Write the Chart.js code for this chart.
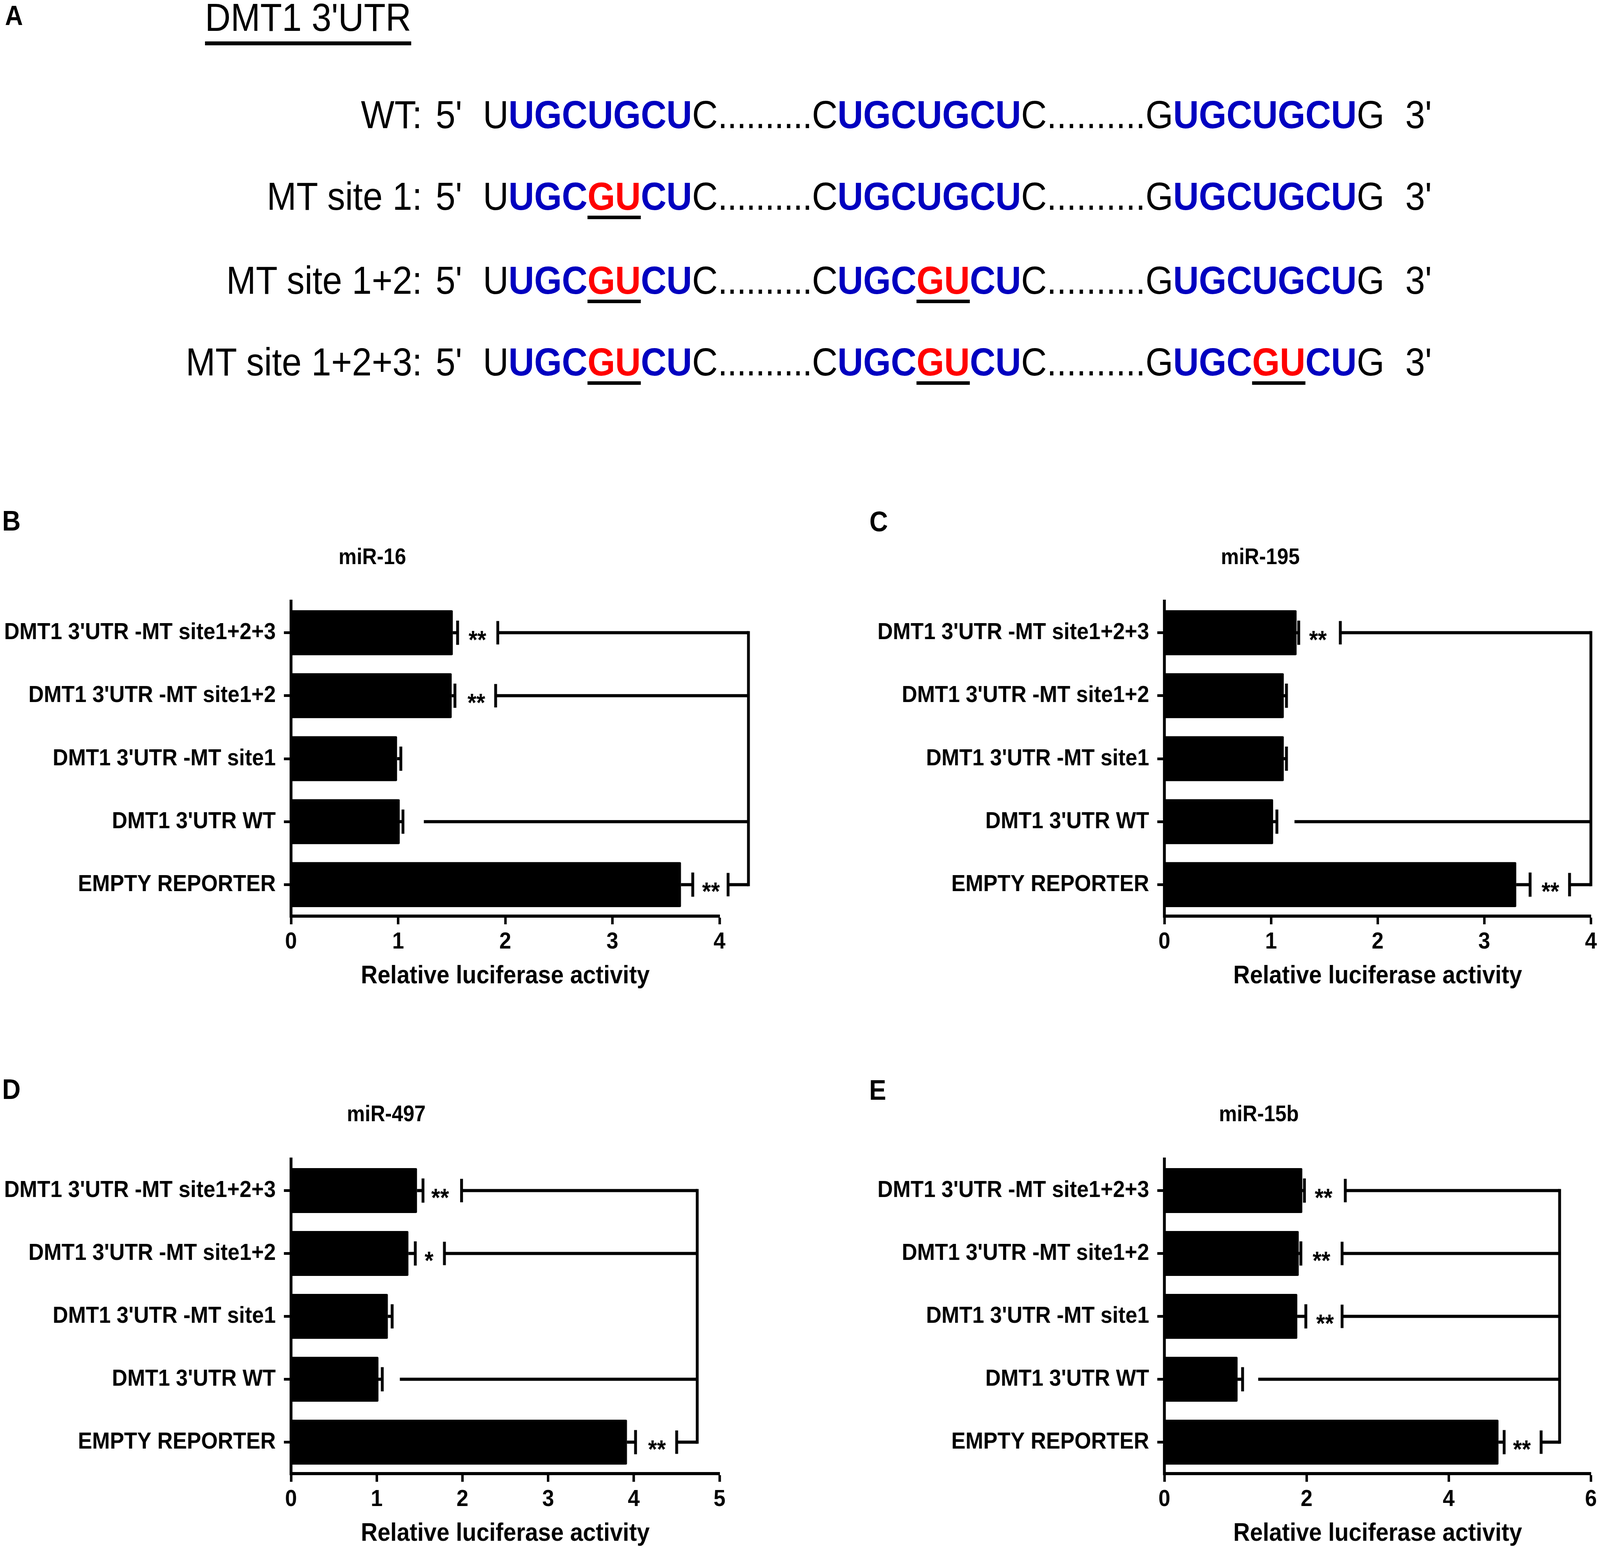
<!DOCTYPE html>
<html lang="en">
<head>
<meta charset="UTF-8">
<title>DMT1 3'UTR luciferase reporter</title>
<script src="https://cdn.jsdelivr.net/npm/chart.js@4.4.1/dist/chart.umd.min.js"></script>
<style>
  html, body { margin: 0; background: #fff; overflow: hidden; }
  #frame { position: relative; overflow: hidden; width: 4503px; height: 3965px; }
  .page { position: absolute; left: 0; top: 0; width: 4503px; height: 3965px; overflow: hidden; background: #fff;
          font-family: 'Liberation Sans', Arial, sans-serif; color: #000; transform-origin: 0 0; }
  .t { position: absolute; white-space: pre; }
  .row { position: absolute; left: 0; width: 4503px; height: 100px; font-size: 100px; line-height: 100px; white-space: nowrap; }
  .row > span { position: absolute; top: 0; white-space: pre; }
  .lab { left: 0; width: 1188px; text-align: right; }
  .p5 { left: 1226px; }
  .seq { left: 1359px; }
  .p3 { left: 3955px; }
  .b { font-weight: bold; color: #0000c0; }
  .r { font-weight: bold; color: #ff0000; text-decoration: underline; text-decoration-color: #000;
       text-decoration-thickness: 9px; text-underline-offset: 15px; text-decoration-skip-ink: none; }
  .dots { letter-spacing: -1.3px; }
  .dots2 { letter-spacing: 0; }
  .letter { font-weight: bold; font-size: 72px; line-height: 72px; }
  .ttl { position: absolute; width: 1000px; text-align: center; font-weight: bold; font-size: 57px; line-height: 57px; }
  canvas { position: absolute; }
</style>
</head>
<body>
<div id="frame">
<div class="page" id="page">
  <div class="t" style="left:14px; top:5px; font-weight:bold; font-size:70px; line-height:70px;">A</div>
  <div class="t" style="left:577px; top:-6px; font-size:100px; line-height:100px; text-decoration:underline; text-decoration-thickness:10px; text-underline-offset:27px; text-decoration-skip-ink:none;">DMT1 3'UTR</div>

  <div class="row" style="top:243px"><span class="lab">WT:</span><span class="p5">5'</span><span class="seq">U<span class="b">UGCUGCU</span>C<span class="dots">..........</span>C<span class="b">UGCUGCU</span>C<span class="dots2">..........</span>G<span class="b">UGCUGCU</span>G</span><span class="p3">3'</span></div>
  <div class="row" style="top:452px"><span class="lab">MT site 1:</span><span class="p5">5'</span><span class="seq">U<span class="b">UGC</span><span class="r">GU</span><span class="b">CU</span>C<span class="dots">..........</span>C<span class="b">UGCUGCU</span>C<span class="dots2">..........</span>G<span class="b">UGCUGCU</span>G</span><span class="p3">3'</span></div>
  <div class="row" style="top:667px"><span class="lab">MT site 1+2:</span><span class="p5">5'</span><span class="seq">U<span class="b">UGC</span><span class="r">GU</span><span class="b">CU</span>C<span class="dots">..........</span>C<span class="b">UGC</span><span class="r">GU</span><span class="b">CU</span>C<span class="dots2">..........</span>G<span class="b">UGCUGCU</span>G</span><span class="p3">3'</span></div>
  <div class="row" style="top:876px"><span class="lab">MT site 1+2+3:</span><span class="p5">5'</span><span class="seq">U<span class="b">UGC</span><span class="r">GU</span><span class="b">CU</span>C<span class="dots">..........</span>C<span class="b">UGC</span><span class="r">GU</span><span class="b">CU</span>C<span class="dots2">..........</span>G<span class="b">UGC</span><span class="r">GU</span><span class="b">CU</span>G</span><span class="p3">3'</span></div>

  <div class="t letter" style="left:6px; top:1297px;">B</div>
  <div class="t letter" style="left:2447px; top:1299px;">C</div>
  <div class="t letter" style="left:6px; top:2752px;">D</div>
  <div class="t letter" style="left:2446px; top:2754px;">E</div>

  <div class="ttl" style="left:548px; top:1396px;">miR-16</div>
  <div class="ttl" style="left:3047px; top:1396px;">miR-195</div>
  <div class="ttl" style="left:587px; top:2822px;">miR-497</div>
  <div class="ttl" style="left:3043px; top:2822px;">miR-15b</div>

  <canvas id="chartB" width="2250" height="1078" style="left:0px; top:1460px;"></canvas>
  <canvas id="chartC" width="2253" height="1078" style="left:2250px; top:1460px;"></canvas>
  <canvas id="chartD" width="2250" height="1075" style="left:0px; top:2890px;"></canvas>
  <canvas id="chartE" width="2253" height="1075" style="left:2250px; top:2890px;"></canvas>
</div>
</div>

<script>
    // rows, top to bottom
    const categories = ["DMT1 3'UTR -MT site1+2+3", "DMT1 3'UTR -MT site1+2", "DMT1 3'UTR -MT site1", "DMT1 3'UTR WT", "EMPTY REPORTER"];

    // B - miR-16
    const mir16 = [1.51, 1.50, 0.99, 1.015, 3.64];
    const mir16Err = [0.045, 0.03, 0.035, 0.03, 0.11];
    const mir16Ticks = [0, 1, 2, 3, 4];
    const mir16Stars = ['**', '**', '', '', '**'];
    const mir16StarAt = [1.74, 1.73, null, null, 3.92];
    const mir16LineFrom = [1.93, 1.91, null, 1.24, 4.08];
    const mir16Join = 4.27;

    // C - miR-195
    const mir195 = [1.24, 1.12, 1.12, 1.02, 3.30];
    const mir195Err = [0.02, 0.025, 0.025, 0.035, 0.13];
    const mir195Ticks = [0, 1, 2, 3, 4];
    const mir195Stars = ['**', '', '', '', '**'];
    const mir195StarAt = [1.44, null, null, null, 3.62];
    const mir195LineFrom = [1.65, null, null, 1.22, 3.80];
    const mir195Join = 4.0;

    // D - miR-497
    const mir497 = [1.47, 1.37, 1.13, 1.02, 3.92];
    const mir497Err = [0.07, 0.08, 0.05, 0.045, 0.10];
    const mir497Ticks = [0, 1, 2, 3, 4, 5];
    const mir497Stars = ['**', '*', '', '', '**'];
    const mir497StarAt = [1.74, 1.61, null, null, 4.27];
    const mir497LineFrom = [1.99, 1.79, null, 1.27, 4.50];
    const mir497Join = 4.74;

    // E - miR-15b
    const mir15b = [1.94, 1.89, 1.87, 1.03, 4.70];
    const mir15bErr = [0.03, 0.03, 0.12, 0.07, 0.08];
    const mir15bTicks = [0, 2, 4, 6];
    const mir15bStars = ['**', '**', '**', '', '**'];
    const mir15bStarAt = [2.24, 2.21, 2.26, null, 5.03];
    const mir15bLineFrom = [2.545, 2.50, 2.50, 1.32, 5.30];
    const mir15bJoin = 5.56;

    // the figure is laid out at 4503x3965; the window can come out narrower
    // (4096 px), so stretch the layout to fill whatever viewport we get
    const sx = Math.min(1, window.innerWidth / 4503);
    const sy = Math.min(1, window.innerHeight / 3965);
    if (sx < 1 || sy < 1) {
        document.getElementById('page').style.transform = 'scale(' + sx + ',' + sy + ')';
        const frame = document.getElementById('frame');
        frame.style.width = (4503 * sx) + 'px';
        frame.style.height = (3965 * sy) + 'px';
    }

    Chart.defaults.font.family = "'Liberation Sans', Arial, sans-serif";
    Chart.defaults.color = '#000';

    // box = [y axis width, top padding, right padding]
    function drawPanel(id, values, errs, ticks, stars, starAt, lineFrom, joinAt, box) {
        // error bars + significance brackets, placed through the chart scales
        const sig = {
            id: 'sig',
            afterDraw(chart) {
                const ctx = chart.ctx;
                const x = chart.scales.x, y = chart.scales.y;
                const seg = (x0, y0, x1, y1) => { ctx.beginPath(); ctx.moveTo(x0, y0); ctx.lineTo(x1, y1); ctx.stroke(); };
                ctx.save();
                ctx.strokeStyle = '#000';
                ctx.fillStyle = '#000';
                ctx.lineWidth = 8;
                values.forEach((v, i) => {
                    const yc = y.getPixelForValue(i);
                    const x0 = x.getPixelForValue(v), x1 = x.getPixelForValue(v + errs[i]);
                    seg(x0, yc, x1, yc);
                    seg(x1, yc - 31, x1, yc + 31);
                });
                const xj = x.getPixelForValue(joinAt);
                const rows = [];
                lineFrom.forEach((f, i) => {
                    if (f === null) return;
                    const yc = y.getPixelForValue(i);
                    rows.push(yc);
                    const xs = x.getPixelForValue(f);
                    seg(xs, yc, xj, yc);
                    if (stars[i]) seg(xs, yc - 30, xs, yc + 30);
                });
                seg(xj, Math.min(...rows) - 4, xj, Math.max(...rows) + 4);
                ctx.font = "bold 64px 'Liberation Sans', Arial, sans-serif";
                ctx.textAlign = 'center';
                ctx.textBaseline = 'alphabetic';
                stars.forEach((s, i) => {
                    if (s) ctx.fillText(s, x.getPixelForValue(starAt[i]), y.getPixelForValue(i) + 40);
                });
                ctx.restore();
            }
        };

        new Chart(document.getElementById(id), {
            type: 'bar',
            data: {
                labels: categories,
                datasets: [{
                    data: values,
                    backgroundColor: '#000',
                    borderWidth: 0,
                    borderRadius: 3,
                    barPercentage: 0.714,
                    categoryPercentage: 1
                }]
            },
            options: {
                indexAxis: 'y',
                responsive: false,
                animation: false,
                devicePixelRatio: 1,
                layout: { padding: { left: 0, top: box[1], right: box[2], bottom: 0 } },
                plugins: { legend: { display: false }, tooltip: { enabled: false } },
                scales: {
                    y: {
                        grid: { offset: false, drawOnChartArea: false, color: '#000', tickLength: 20, tickWidth: 7 },
                        border: { color: '#000', width: 8 },
                        ticks: { color: '#000', font: { size: 60, weight: 'bold' }, padding: 23, autoSkip: false },
                        afterFit: s => { s.width = box[0]; }
                    },
                    x: {
                        min: ticks[0],
                        max: ticks[ticks.length - 1],
                        grid: { drawOnChartArea: false, color: '#000', tickLength: 21, tickWidth: 7 },
                        border: { color: '#000', width: 8 },
                        ticks: { stepSize: ticks[1] - ticks[0], color: '#000', font: { size: 60, weight: 'bold' }, padding: 9 },
                        title: { display: true, text: 'Relative luciferase activity', color: '#000', font: { size: 65, weight: 'bold' }, padding: 0 },
                        afterFit: s => { s.height = 193; }
                    }
                }
            },
            plugins: [sig]
        });
    }

    drawPanel('chartB', mir16, mir16Err, mir16Ticks, mir16Stars, mir16StarAt, mir16LineFrom, mir16Join, [819, 79, 225]);
    drawPanel('chartC', mir195, mir195Err, mir195Ticks, mir195Stars, mir195StarAt, mir195LineFrom, mir195Join, [1027, 79, 19]);
    drawPanel('chartD', mir497, mir497Err, mir497Ticks, mir497Stars, mir497StarAt, mir497LineFrom, mir497Join, [819, 77, 225]);
    drawPanel('chartE', mir15b, mir15bErr, mir15bTicks, mir15bStars, mir15bStarAt, mir15bLineFrom, mir15bJoin, [1027, 77, 19]);
</script>
</body>
</html>
